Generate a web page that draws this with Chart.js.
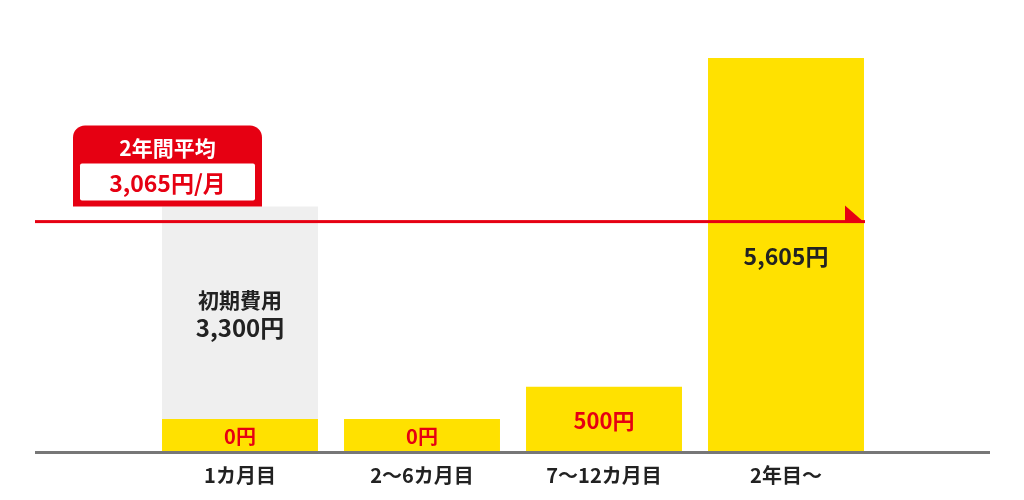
<!DOCTYPE html>
<html lang="ja">
<head>
<meta charset="utf-8">
<script src="https://cdn.jsdelivr.net/npm/chart.js@4/dist/chart.umd.min.js"></script>
<style>
  html, body { margin: 0; padding: 0; background: #fff; }
  #wrap { width: 1024px; height: 500px; }
</style>
</head>
<body>
<div id="wrap"><canvas id="costChart"></canvas></div>
<script>
const categories = ["1カ月目", "2〜6カ月目", "7〜12カ月目", "2年目〜"];
const monthlyFees = [0, 0, 500, 5605];
const initialCost = [3300, null, null, null];
const initialCostLabel = "初期費用";
const averageFee = 3065;
const averageTitle = "2年間平均";

const red = "#e60012";
const yellow = "#ffe100";
const gray = "#efefef";
const ink = "#222222";
const fontFamily = "'Noto Sans CJK JP', 'Noto Sans', sans-serif";

// bars start a little below zero so that 0円 still shows a strip of yellow
const floorValue = -512;

const yen = (v) => v.toLocaleString("en-US") + "円";

const decorations = {
  id: "decorations",
  afterDatasetsDraw(chart) {
    const { ctx, chartArea, scales } = chart;
    const yellowBars = chart.getDatasetMeta(0).data;
    const grayBars = chart.getDatasetMeta(1).data;
    ctx.save();

    // baseline across the full width
    ctx.fillStyle = "#777";
    ctx.fillRect(35, chartArea.bottom - 1, 955, 3);

    ctx.textAlign = "center";
    ctx.textBaseline = "middle";

    // values inside the yellow bars
    yellowBars.forEach((bar, i) => {
      const v = monthlyFees[i];
      const mid = (bar.y + bar.base) / 2;
      const last = i === monthlyFees.length - 1;
      ctx.fillStyle = last ? ink : red;
      ctx.font = `bold ${last ? 23 : v > 0 ? 22 : 20}px ${fontFamily}`;
      ctx.fillText(yen(v), bar.x, mid + 1);
    });

    // initial cost label inside the gray bar
    grayBars.forEach((bar, i) => {
      if (initialCost[i] == null) return;
      const mid = (bar.y + bar.base) / 2;
      ctx.fillStyle = ink;
      ctx.font = `bold 21px ${fontFamily}`;
      ctx.fillText(initialCostLabel, bar.x, mid - 13);
      ctx.font = `bold 24px ${fontFamily}`;
      ctx.fillText(yen(initialCost[i]), bar.x, mid + 15);
    });

    // average line with arrow head
    const ay = scales.y.getPixelForValue(averageFee);
    const lastBar = yellowBars[yellowBars.length - 1];
    const tipX = lastBar.x + lastBar.width / 2 + 1;
    ctx.fillStyle = red;
    ctx.fillRect(35, ay - 1.5, tipX - 35, 3);
    ctx.beginPath();
    ctx.moveTo(tipX - 20, ay - 16);
    ctx.lineTo(tipX - 20, ay + 1.5);
    ctx.lineTo(tipX, ay + 1.5);
    ctx.closePath();
    ctx.fill();

    // callout box
    const bx = 73, bw = 189, by = ay - 96, bh = 81, r = 12;
    ctx.beginPath();
    ctx.moveTo(bx, by + bh);
    ctx.lineTo(bx, by + r);
    ctx.arcTo(bx, by, bx + r, by, r);
    ctx.lineTo(bx + bw - r, by);
    ctx.arcTo(bx + bw, by, bx + bw, by + r, r);
    ctx.lineTo(bx + bw, by + bh);
    ctx.closePath();
    ctx.fill();
    ctx.fillStyle = "#fff";
    ctx.beginPath();
    ctx.roundRect(bx + 7, by + 38, bw - 14, 37, 2);
    ctx.fill();
    ctx.font = `bold 21px ${fontFamily}`;
    ctx.fillText(averageTitle, bx + bw / 2, by + 22);
    ctx.fillStyle = red;
    ctx.font = `bold 23px ${fontFamily}`;
    ctx.fillText(yen(averageFee) + "/月", bx + bw / 2, by + 58);

    ctx.restore();
  },
};

new Chart(document.getElementById("costChart"), {
  type: "bar",
  data: {
    labels: categories,
    datasets: [
      {
        label: "月額",
        data: monthlyFees,
        backgroundColor: yellow,
        base: floorValue,
        borderWidth: 0,
      },
      {
        label: initialCostLabel,
        data: initialCost,
        backgroundColor: gray,
        borderWidth: 0,
      },
    ],
  },
  options: {
    responsive: true,
    maintainAspectRatio: false,
    animation: false,
    layout: { padding: { left: 149, right: 147, top: 10, bottom: 2 } },
    datasets: { bar: { barPercentage: 0.857, categoryPercentage: 1 } },
    plugins: { legend: { display: false }, tooltip: { enabled: false } },
    scales: {
      x: {
        stacked: true,
        grid: { display: false, drawTicks: false },
        border: { display: false },
        ticks: {
          color: ink,
          padding: 11,
          font: { family: fontFamily, size: 20, weight: "bold" },
        },
      },
      y: {
        display: false,
        stacked: false,
        min: floorValue,
        max: 6350,
      },
    },
  },
  plugins: [decorations],
});
</script>
</body>
</html>
